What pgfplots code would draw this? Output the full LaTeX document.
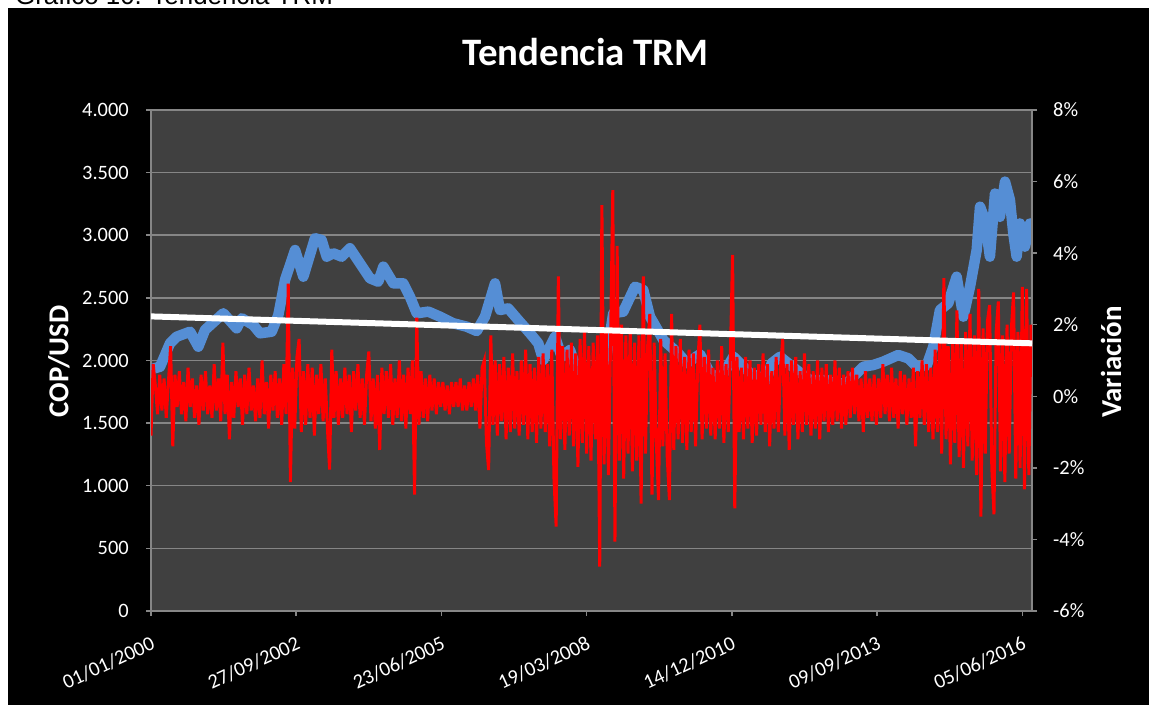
\documentclass[border=0pt]{standalone}
\usepackage{pgfplots}
\pgfplotsset{compat=1.18}
\usepackage{pgfplotstable}
\usepackage{fontspec}
\setmainfont{Carlito}
\newfontfamily\arialfont{Liberation Sans}
\definecolor{plotbg}{RGB}{64,64,64}
\definecolor{gridc}{RGB}{134,134,134}
\definecolor{trmblue}{RGB}{85,142,213}
\definecolor{varred}{RGB}{255,0,0}

\pgfplotstableread{
day trm
0 1930
62 1950
131 2137
177 2190
269 2230
326 2110
372 2244
498 2377
590 2257
625 2337
704 2283
751 2217
831 2230
877 2363
923 2643
992 2882
1049 2669
1129 2976
1175 2962
1210 2829
1255 2856
1313 2829
1370 2896
1439 2776
1508 2656
1565 2629
1600 2749
1669 2616
1737 2616
1783 2510
1830 2377
1910 2390
1990 2350
2082 2297
2174 2270
2243 2235
2300 2350
2369 2616
2403 2403
2460 2416
2529 2323
2610 2217
2667 2137
2701 2004
2782 2190
2828 2030
2885 2084
2940 1900
3023 1720
3092 1760
3140 2050
3183 2377
3252 2390
3333 2589
3390 2563
3436 2350
3528 2164
3631 2057
3689 1978
3781 2050
3850 1898
3896 1870
3918 1844
4010 2030
4079 1950
4125 1898
4240 1844
4274 1978
4332 2030
4446 1924
4538 1844
4653 1844
4698 1818
4791 1818
4905 1950
4974 1964
5043 1991
5146 2044
5215 2017
5273 1950
5342 1960
5387 2110
5433 2403
5490 2456
5548 2669
5594 2350
5640 2589
5686 2882
5709 3228
5743 3122
5777 2829
5812 3333
5846 3147
5881 3428
5915 3281
5938 3015
5961 2829
5984 3094
6018 2909
6053 3094
6067 2989
}\trmdata

\pgfplotstableread{
var
-1.1
0.9
0.3
-0.5
0.6
-0.4
0.5
-0.6
0.4
1.4
-1.4
0.6
-0.3
0.7
-0.5
0.4
-0.7
0.8
-0.3
0.5
-0.6
0.3
-0.8
0.6
-0.4
0.7
-0.5
0.3
-0.6
0.9
-0.4
0.5
-0.7
1.5
-0.5
0.6
-1.2
0.4
-0.6
0.7
-0.3
0.5
-0.8
0.6
-0.5
0.8
-0.4
0.3
-0.7
0.5
-0.6
1.0
-0.5
0.4
-0.9
0.6
-0.4
0.7
-0.6
0.5
-0.8
0.9
-0.5
3.15
-2.4
0.8
-0.9
1.1
1.6
-1.0
0.7
-0.8
0.9
-0.6
0.8
-1.1
0.6
-0.5
0.9
-0.7
0.5
-0.9
-2.05
1.3
-0.6
0.7
-0.8
0.5
-0.6
0.8
-0.5
0.6
-1.0
0.7
-0.4
0.9
-0.6
0.5
-0.8
0.6
1.25
-0.7
0.5
-0.9
0.6
-1.5
0.8
-0.5
0.7
-0.6
0.9
-0.8
0.5
-0.6
1.0
-0.7
0.6
-0.9
0.8
-0.5
1.0
-2.75
2.2
-0.8
0.7
-0.6
0.5
-0.7
0.6
-0.4
0.5
-0.5
0.4
-0.3
0.4
-0.4
0.3
-0.5
0.4
-0.3
0.4
-0.3
0.5
-0.4
0.3
-0.4
0.4
-0.3
0.5
-0.4
0.6
-0.9
0.8
1.0
-1.3
-2.06
1.7
-0.8
1.0
-1.1
0.9
-0.7
1.1
-1.2
0.8
-1.0
1.2
-0.9
0.7
-1.1
1.0
-0.8
1.3
-1.2
0.9
-1.0
0.8
-1.3
1.1
-0.9
1.2
-1.0
0.9
-1.4
1.3
-2.3
-3.64
3.35
-1.2
1.4
-1.5
1.3
-1.1
1.5
-1.4
1.2
-1.97
1.6
-1.3
1.9
-1.6
1.4
-1.8
1.5
-1.2
1.7
-4.76
5.34
-1.9
1.8
-2.2
1.6
5.76
-4.06
4.2
-1.8
2.0
-2.3
1.7
-1.6
1.9
-2.1
1.5
-1.8
1.7
-3.0
3.35
-1.6
1.4
2.3
-2.75
1.5
-1.3
-2.9
1.6
-1.4
1.2
-1.7
-2.9
2.3
-1.5
1.4
-1.2
1.6
-1.3
1.1
-1.5
1.3
-1.0
1.2
-1.4
0.9
2.0
-1.2
1.1
-0.9
1.3
-1.1
0.8
-1.2
1.0
-0.9
1.4
-1.3
0.9
-1.0
1.2
3.95
-3.13
1.1
-1.0
0.8
-1.2
1.1
-0.9
1.0
-1.3
0.8
-1.1
0.9
-0.8
1.2
-1.0
0.9
-1.4
0.7
-0.9
1.1
-1.0
0.8
1.6
-1.1
0.9
-1.5
1.0
-0.8
1.1
-1.2
0.7
-1.0
1.2
-0.8
0.9
-1.1
0.7
-0.9
1.0
-1.2
0.8
-0.7
0.9
-1.0
0.6
-0.8
1.0
-0.7
0.8
-0.9
0.6
-0.8
0.7
-0.6
0.8
-0.5
0.6
-0.7
0.5
-1.0
0.7
-0.6
0.5
-0.7
0.6
-0.8
0.5
-0.6
0.9
-0.5
0.6
-0.7
0.8
-0.6
0.5
-0.9
0.7
-0.5
0.6
-0.8
0.5
-0.6
0.8
-1.4
0.7
-0.6
1.0
-0.8
0.9
-1.0
0.8
-1.2
1.3
-1.0
1.5
-1.6
3.3
-1.2
1.4
-1.9
1.6
-1.3
2.4
-1.7
1.5
-2.0
1.8
-1.4
2.3
-1.8
1.7
-2.2
3.0
-3.36
1.9
-1.6
2.1
2.55
-2.0
-3.3
1.8
2.65
-2.1
1.7
-2.4
2.0
-1.6
1.9
2.9
-2.3
1.8
-2.0
3.06
-2.6
3.0
-2.2
2.0
}\vardata

\pgfplotsset{
  common/.style={
    at={(151bp,94bp)}, anchor=south west,
    scale only axis, width=881bp, height=501bp,
    xmin=0, xmax=6067,
    tick align=outside,
    major tick length=5bp,
    tick style={gridc, line width=1.5bp},
    axis line style={gridc, line width=1.5bp},
    ticklabel style={white, font=\fontsize{20.5}{24}\selectfont},
  }
}

\begin{document}
\begin{tikzpicture}[x=1bp,y=1bp]
\useasboundingbox (0,0) rectangle (1149,705);
\clip (0,0) rectangle (1149,705);
\fill[white] (0,0) rectangle (1149,705);
\node[anchor=base west, font=\arialfont\fontsize{26}{30}\selectfont, inner sep=0pt, text=black] at (15,700) {Gráfico 10. Tendencia TRM};
\fill[black] (8,0) rectangle (1149,697);

% primary axis: TRM
\begin{axis}[common,
  ymin=0, ymax=4000,
  axis background/.style={fill=plotbg},
  axis x line*=bottom, axis y line*=left,
  ymajorgrids, grid style={gridc, line width=1.5bp},
  ytick={0,500,...,4000},
  yticklabels={0,500,1.000,1.500,2.000,2.500,3.000,3.500,4.000},
  yticklabel style={anchor=east, inner sep=0pt, xshift=-17bp},
  xtick={0,1000,...,6000},
  xticklabels={01/01/2000,27/09/2002,23/06/2005,19/03/2008,14/12/2010,09/09/2013,05/06/2016},
  xticklabel style={rotate=25, anchor=north east, inner sep=0pt, xshift=-9bp, yshift=-17bp},
]
\addplot[trmblue, line width=10.5bp, line join=round, line cap=round, mark=none] table[x=day, y=trm]{\trmdata};
\end{axis}

% secondary axis: daily variation
\begin{axis}[common,
  ymin=-6, ymax=8,
  axis x line=none, axis y line*=right,
  ytick={-6,-4,...,8},
  yticklabels={-6\%,-4\%,-2\%,0\%,2\%,4\%,6\%,8\%},
  yticklabel style={anchor=west, inner sep=0pt, xshift=16bp},
]
\addplot[varred, line width=3bp, mark=none, line join=miter] table[x expr=\coordindex*15, y=var]{\vardata};
\end{axis}

% trend line of TRM
\begin{axis}[common,
  ymin=0, ymax=4000, hide axis,
]
\addplot[white, line width=6bp, mark=none] coordinates {(0,2352) (6067,2137)};
\end{axis}

\node[white, font=\bfseries\fontsize{39}{44}\selectfont, anchor=base] at (585.5,639.3) {Tendencia TRM};
\node[white, font=\bfseries\fontsize{29}{33}\selectfont, rotate=90] at (59,343.5) {COP/USD};
\node[white, font=\bfseries\fontsize{29}{33}\selectfont, rotate=90] at (1111,343) {Variación};
\end{tikzpicture}
\end{document}
